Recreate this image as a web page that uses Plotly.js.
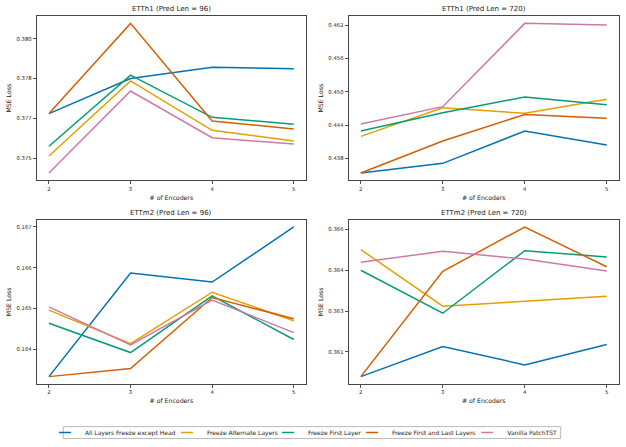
<!DOCTYPE html>
<html>
<head>
<meta charset="utf-8">
<script src="https://cdn.plot.ly/plotly-3.0.1.min.js"></script>
<style>html,body{margin:0;padding:0;background:#fff;}#chart{width:626px;height:447px;}</style>
</head>
<body>
<div id="chart"></div>
<script>
const encoders = [2, 3, 4, 5];
const seriesNames = ["All Layers Freeze except Head", "Freeze Alternate Layers", "Freeze First Layer", "Freeze First and Last Layers", "Vanilla PatchTST"];
const seriesColors = ["#0072B2", "#E69F00", "#009E73", "#D55E00", "#CC79A7"];
const panelTitles = ["ETTh1 (Pred Len = 96)", "ETTh1 (Pred Len = 720)", "ETTm2 (Pred Len = 96)", "ETTm2 (Pred Len = 720)"];

// values per panel, one array per series (same order as seriesNames)
const etth1_96 = [
  [0.37718, 0.37850, 0.37893, 0.37887],
  [0.37558, 0.37841, 0.37655, 0.37615],
  [0.37595, 0.37863, 0.37704, 0.37678],
  [0.37718, 0.38058, 0.37690, 0.37660],
  [0.37494, 0.37803, 0.37627, 0.37603]
];
const etth1_720 = [
  [0.43536, 0.43710, 0.44292, 0.44040],
  [0.44196, 0.44712, 0.44610, 0.44862],
  [0.44292, 0.44622, 0.44904, 0.44766],
  [0.43536, 0.44112, 0.44590, 0.44520],
  [0.44418, 0.44730, 0.46230, 0.46200]
];
const ettm2_96 = [
  [0.16333, 0.16587, 0.16565, 0.16700],
  [0.16496, 0.16414, 0.16540, 0.16470],
  [0.16464, 0.16392, 0.16531, 0.16424],
  [0.16333, 0.16353, 0.16527, 0.16475],
  [0.16504, 0.16411, 0.16521, 0.16441]
];
const ettm2_720 = [
  [0.36059, 0.36170, 0.36102, 0.36177],
  [0.36526, 0.36318, 0.36336, 0.36354],
  [0.36450, 0.36292, 0.36522, 0.36499],
  [0.36059, 0.36446, 0.36609, 0.36463],
  [0.36479, 0.36520, 0.36491, 0.36447]
];
const panelData = [etth1_96, etth1_720, ettm2_96, ettm2_720];

// y tick positions and labels per panel
const yTickVals = [
  [0.3755, 0.3770, 0.3785, 0.3800],
  [0.438, 0.444, 0.450, 0.456, 0.462],
  [0.164, 0.165, 0.166, 0.167],
  [0.3615, 0.3630, 0.3645, 0.3660]
];
const yTickText = [
  ["0.375", "0.377", "0.378", "0.380"],
  ["0.438", "0.444", "0.450", "0.456", "0.462"],
  ["0.164", "0.165", "0.166", "0.167"],
  ["0.361", "0.363", "0.364", "0.366"]
];
const xTickVals = [2, 3, 4, 5];
const xTickText = ["2", "3", "4", "5"];

const W = 626, H = 447;
const xDomains = [[36.7 / W, 306 / W], [348.5 / W, 619 / W], [36.7 / W, 306 / W], [348.5 / W, 619 / W]];
const yDomains = [[(H - 181.7) / H, (H - 16) / H], [(H - 181.7) / H, (H - 16) / H], [(H - 386.7) / H, (H - 221) / H], [(H - 386.7) / H, (H - 221) / H]];
const titleY = [9, 9, 214, 214];
// legend: text start x (px) of each entry, vertical centre, frame
const legendTextX = [85, 207, 308, 392, 507.3];
const legendCY = 435.5;
const legendBox = [63.3, 429.5, 560.7, 441.5];

const FONT = "DejaVu Sans, sans-serif";
const traces = [];
const layout = {
  width: W, height: H,
  margin: {l: 0, r: 0, t: 0, b: 0},
  paper_bgcolor: "#fff", plot_bgcolor: "#fff",
  font: {family: FONT, color: "#222", size: 6},
  showlegend: true,
  annotations: [],
  shapes: [{
    type: "rect", xref: "paper", yref: "paper", layer: "above",
    x0: legendBox[0] / W, x1: legendBox[2] / W, y0: (H - legendBox[3]) / H, y1: (H - legendBox[1]) / H,
    line: {color: "#bbbbbb", width: 1}, fillcolor: "rgba(0,0,0,0)"
  }]
};

panelData.forEach((panel, p) => {
  const ax = p === 0 ? "" : String(p + 1);
  let mn = Infinity, mx = -Infinity;
  panel.forEach(s => s.forEach(v => { mn = Math.min(mn, v); mx = Math.max(mx, v); }));
  const pad = 0.05 * (mx - mn);
  panel.forEach((vals, i) => {
    traces.push({
      x: encoders, y: vals, type: "scatter", mode: "lines",
      name: seriesNames[i], showlegend: false,
      line: {color: seriesColors[i], width: 1.5},
      xaxis: "x" + ax, yaxis: "y" + ax, hoverinfo: "skip"
    });
  });
  layout["xaxis" + ax] = {
    domain: xDomains[p], anchor: "y" + ax, range: [1.85, 5.15],
    tickmode: "array", tickvals: xTickVals, ticktext: xTickText,
    ticks: "outside", ticklen: 3, tickwidth: 0.8, tickcolor: "#222",
    tickfont: {family: FONT, size: 5.3, color: "#222"},
    showgrid: false, zeroline: false, showline: true, mirror: true,
    linecolor: "#333", linewidth: 0.9,
    title: {text: "# of Encoders", font: {family: FONT, size: 6.2, color: "#222"}, standoff: 4}
  };
  layout["yaxis" + ax] = {
    domain: yDomains[p], anchor: "x" + ax, range: [mn - pad, mx + pad],
    tickmode: "array", tickvals: yTickVals[p], ticktext: yTickText[p],
    ticks: "outside", ticklen: 3, tickwidth: 0.8, tickcolor: "#222",
    tickfont: {family: FONT, size: 5.3, color: "#222"},
    showgrid: false, zeroline: false, showline: true, mirror: true,
    linecolor: "#333", linewidth: 0.9,
    title: {text: "MSE Loss", font: {family: FONT, size: 6.2, color: "#222"}, standoff: 4}
  };
  layout.annotations.push({
    text: panelTitles[p], xref: "paper", yref: "paper",
    x: (xDomains[p][0] + xDomains[p][1]) / 2, y: (H - titleY[p]) / H,
    xanchor: "center", yanchor: "middle", showarrow: false,
    font: {family: FONT, size: 7, color: "#222"}
  });
});

// legend entries: one small legend per series, short line-shaped symbol
seriesNames.forEach((name, i) => {
  const lg = i === 0 ? "legend" : "legend" + (i + 1);
  traces.push({
    x: [null], y: [null], type: "scatter", mode: "markers", name: name,
    legend: lg, showlegend: true, hoverinfo: "skip",
    marker: {symbol: "line-ew", size: 8.6, color: seriesColors[i], line: {color: seriesColors[i], width: 1.5}}
  });
  layout[lg] = {
    orientation: "h", x: (legendTextX[i] - 40) / W, xanchor: "left",
    y: (H - legendCY) / H, yanchor: "middle",
    font: {family: FONT, size: 6, color: "#222"},
    borderwidth: 0, bgcolor: "rgba(0,0,0,0)", itemwidth: 30
  };
});

Plotly.newPlot("chart", traces, layout, {displayModeBar: false, staticPlot: true});
</script>
</body>
</html>
